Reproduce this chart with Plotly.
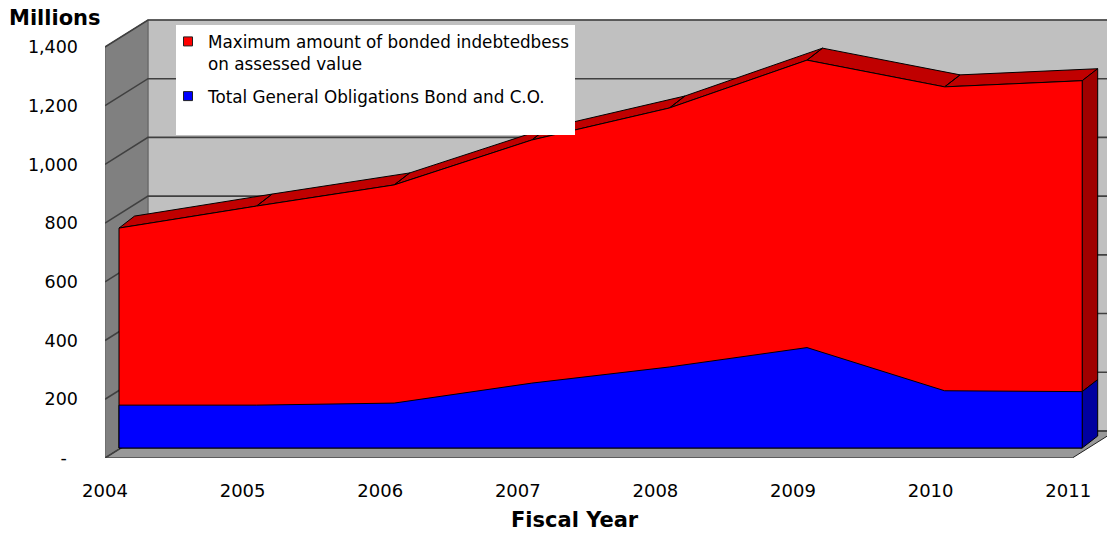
import plotly.graph_objects as go

# ---- data -------------------------------------------------------------
years = [2004, 2005, 2006, 2007, 2008, 2009, 2010, 2011]
max_bonded = [749, 824, 896, 1049, 1158, 1321, 1230, 1251]   # millions
go_bonds = [146, 146, 153, 221, 276, 342, 195, 192]          # millions
y_ticks = [0, 200, 400, 600, 800, 1000, 1200, 1400]
y_tick_text = ["-\u00a0\u00a0", "200", "400", "600", "800", "1,000", "1,200", "1,400"]
series_names = [
    "Maximum amount of bonded indebtedbess<br>on assessed value",
    "Total General Obligations Bond and C.O.",
]

# ---- geometry of the pseudo-3D box ------------------------------------
W, H = 1107, 533
M_L, M_B = 105, 75
PLOT_W, PLOT_H = W - M_L, H - M_B
PX_YEAR = 137.6          # pixels per year
PX_UNIT = 0.2936         # pixels per million
FRONT = (14, 10)         # area front face, shifted into depth (right, up) px
AREA_DEPTH = (15.5, 12)  # thickness of the area slab, px
WALL_DEPTH = (43, 27)    # full depth of the box, px
X_END = years[-1] + 0.03

def dx(px):
    return px / PX_YEAR

def dy(px):
    return px / PX_UNIT

x0 = years[0]
ax, ay = dx(AREA_DEPTH[0]), dy(AREA_DEPTH[1])
wx, wy = dx(WALL_DEPTH[0]), dy(WALL_DEPTH[1])

RED, RED_TOP, RED_SIDE = "#FF0000", "#C00000", "#A00000"
BLUE, BLUE_SIDE = "#0000FF", "#0000A0"
EDGE = dict(color="black", width=1)

fig = go.Figure()

# top strip of the red slab, one quad per segment
sx, sy = [], []
for i in range(len(years) - 1):
    xa, xb = years[i], years[i + 1]
    ya, yb = max_bonded[i], max_bonded[i + 1]
    sx += [xa, xb, xb + ax, xa + ax, xa, None]
    sy += [ya, yb, yb + ay, ya + ay, ya, None]
fig.add_trace(go.Scatter(x=sx, y=sy, mode="lines", fill="toself",
                         fillcolor=RED_TOP, line=EDGE, showlegend=False,
                         hoverinfo="skip"))

# right-hand side faces of both slabs
xl = years[-1]
fig.add_trace(go.Scatter(
    x=[xl, xl, xl + ax, xl + ax, xl],
    y=[go_bonds[-1], max_bonded[-1], max_bonded[-1] + ay, go_bonds[-1] + ay, go_bonds[-1]],
    mode="lines", fill="toself", fillcolor=RED_SIDE, line=EDGE,
    showlegend=False, hoverinfo="skip"))
fig.add_trace(go.Scatter(
    x=[xl, xl, xl + ax, xl + ax, xl],
    y=[0, go_bonds[-1], go_bonds[-1] + ay, ay, 0],
    mode="lines", fill="toself", fillcolor=BLUE_SIDE, line=EDGE,
    showlegend=False, hoverinfo="skip"))

# front faces
for vals, col in ((max_bonded, RED), (go_bonds, BLUE)):
    fig.add_trace(go.Scatter(
        x=years + [years[-1], years[0], years[0]],
        y=vals + [0, 0, vals[0]],
        mode="lines", fill="toself", fillcolor=col, line=EDGE,
        showlegend=False, hoverinfo="skip"))

# legend entries
for name, col, grp in ((series_names[0], RED, "a"), (series_names[1], BLUE, "b")):
    fig.add_trace(go.Scatter(
        x=[None], y=[None], mode="markers", name=name, legendgroup=grp,
        marker=dict(symbol="square", size=9, color=col,
                    line=dict(color="#202020", width=1))))

# ---- walls, floor and gridlines (depth-0 axes x2/y2) -------------------
shapes = []
top = y_ticks[-1]
shapes.append(dict(type="path", xref="x2", yref="y2", layer="below",
                   path=f"M{x0+wx},{wy} L{x0+wx},{top+wy} L{X_END+wx+1},{top+wy} L{X_END+wx+1},{wy} Z",
                   fillcolor="#C0C0C0", line=dict(color="#808080", width=1)))
shapes.append(dict(type="path", xref="x2", yref="y2", layer="below",
                   path=f"M{x0},0 L{x0},{top} L{x0+wx},{top+wy} L{x0+wx},{wy} Z",
                   fillcolor="#808080", line=dict(color="#606060", width=1)))
shapes.append(dict(type="path", xref="x2", yref="y2", layer="below",
                   path=f"M{x0},0 L{X_END},0 L{X_END+wx},{wy} L{x0+wx},{wy} Z",
                   fillcolor="#999999", line=dict(color="#202020", width=1)))
for v in y_ticks:
    shapes.append(dict(type="path", xref="x2", yref="y2", layer="below",
                       path=f"M{x0},{v} L{x0+wx},{v+wy} L{X_END+wx+1},{v+wy}",
                       line=dict(color="#404040", width=1.6)))

# legend box
LG = (176, 25, 575, 135)
shapes.append(dict(type="rect", xref="paper", yref="paper", layer="above",
                   x0=(LG[0] - M_L) / PLOT_W, x1=(LG[2] - M_L) / PLOT_W,
                   y0=1 - LG[3] / PLOT_H, y1=1 - LG[1] / PLOT_H,
                   fillcolor="white", line=dict(width=0)))

FONT = "DejaVu Sans"
fig.update_layout(
    width=W, height=H,
    margin=dict(l=M_L, r=0, t=0, b=M_B),
    paper_bgcolor="white", plot_bgcolor="white",
    font=dict(family=FONT, color="black", size=18),
    shapes=shapes,
    showlegend=True,
    legend=dict(x=(LG[0] - 8 - M_L) / PLOT_W, y=1 - 24 / PLOT_H,
                xanchor="left", yanchor="top", bgcolor="rgba(0,0,0,0)",
                font=dict(family=FONT, size=16.8, color="black"),
                valign="top", traceorder="grouped", tracegroupgap=8,
                itemwidth=30),
    xaxis=dict(range=[x0 - dx(FRONT[0]), x0 + dx(PLOT_W - FRONT[0])],
               visible=False, fixedrange=True),
    yaxis=dict(range=[-dy(FRONT[1]), dy(PLOT_H - FRONT[1])],
               visible=False, fixedrange=True),
    xaxis2=dict(overlaying="x", range=[x0 - 1e-6, x0 + dx(PLOT_W)],
                tickvals=years, ticktext=[str(y) for y in years],
                showgrid=False, zeroline=False, showline=False,
                ticks="", ticklabelstandoff=20,
                tickfont=dict(family=FONT, size=18)),
    yaxis2=dict(overlaying="y", range=[0, dy(PLOT_H)],
                tickvals=y_ticks, ticktext=y_tick_text,
                showgrid=False, zeroline=False, showline=False,
                ticks="", ticklabelstandoff=26,
                tickfont=dict(family=FONT, size=17.5)),
    annotations=[
        dict(text="<b>Millions</b>", xref="paper", yref="paper",
             x=(7 - M_L) / PLOT_W, y=1 - 18 / PLOT_H, xanchor="left",
             yanchor="middle", showarrow=False,
             font=dict(family=FONT, size=21)),
        dict(text="<b>Fiscal Year</b>", xref="paper", yref="paper",
             x=(575 - M_L) / PLOT_W, y=-(520 - PLOT_H) / PLOT_H,
             xanchor="center", yanchor="middle", showarrow=False,
             font=dict(family=FONT, size=21)),
    ],
)

# invisible point so the depth-0 axes are drawn
fig.add_trace(go.Scatter(x=[x0], y=[0], xaxis="x2", yaxis="y2",
                         mode="markers", marker=dict(opacity=0),
                         showlegend=False, hoverinfo="skip"))

fig.write_html("out.html")
